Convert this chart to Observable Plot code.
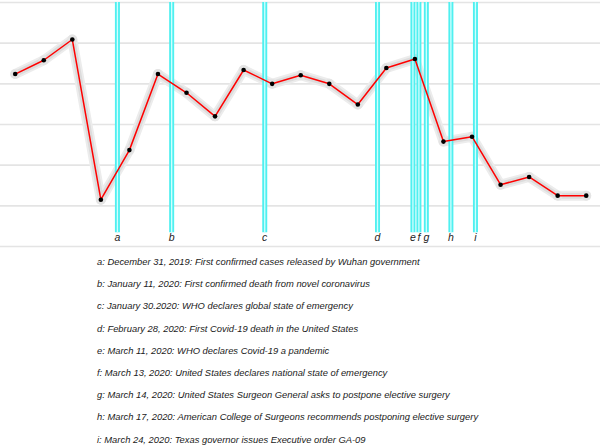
<!DOCTYPE html>
<html>
<head>
<meta charset="utf-8">
<script src="https://cdn.jsdelivr.net/npm/d3@7"></script>
<script src="https://cdn.jsdelivr.net/npm/@observablehq/plot@0.6"></script>
<style>
  html, body { margin: 0; padding: 0; background: #fff; }
  #notes { margin: 0; padding: 0; position: relative; }
  #notes div {
    font-family: "Liberation Sans", Arial, sans-serif;
    font-style: italic;
    font-size: 9.4px;
    color: #1a1a1a;
    height: 22.2px;
    line-height: 22.2px;
    padding-left: 97px;
    white-space: nowrap;
  }
</style>
</head>
<body>
<div id="chart"></div>
<div id="notes"></div>
<script>
// Series: week index and value (no axis labels in the reference; units = gridline steps)
const weekIndex = [0,1,2,3,4,5,6,7,8,9,10,11,12,13,14,15,16,17,18,19,20];
const values = [4.24,4.58,5.09,1.15,2.37,4.24,3.78,3.20,4.34,4.00,4.21,4.00,3.49,4.39,4.61,2.58,2.70,1.52,1.71,1.25,1.25];

// Events: letter, position on the same week-index axis, description
const eventLetters = ["a","b","c","d","e","f","g","h","i"];
const eventPositions = [3.58,5.48,8.74,12.69,13.93,14.14,14.40,15.26,16.12];
const eventTexts = [
  "December 31, 2019: First confirmed cases released by Wuhan government",
  "January 11, 2020: First confirmed death from novel coronavirus",
  "January 30.2020: WHO declares global state of emergency",
  "February 28, 2020: First Covid-19 death in the United States",
  "March 11, 2020: WHO declares Covid-19 a pandemic",
  "March 13, 2020: United States declares national state of emergency",
  "March 14, 2020: United States Surgeon General asks to postpone elective surgery",
  "March 17, 2020: American College of Surgeons recommends postponing elective surgery",
  "March 24, 2020: Texas governor issues Executive order GA-09"
];
const gridTicks = [0,1,2,3,4,5,6];

const series = weekIndex.map((w, i) => ({w, v: values[i]}));
const events = eventLetters.map((l, i) => ({l, x: eventPositions[i], t: eventTexts[i]}));

const chart = Plot.plot({
  width: 600,
  height: 250,
  marginLeft: 0,
  marginRight: 0,
  marginTop: 2,
  marginBottom: 4,
  x: {domain: [-0.515, 20.5], axis: null},
  y: {domain: [0, 6], axis: null},
  marks: [
    Plot.ruleY(gridTicks, {stroke: "#e4e4e4", strokeWidth: 1.6}),
    Plot.line(series, {x: "w", y: "v", stroke: "#ececec", strokeWidth: 10, strokeLinejoin: "round", strokeLinecap: "round"}),
    Plot.line(series, {x: "w", y: "v", stroke: "#dcdcdc", strokeWidth: 6, strokeLinejoin: "round", strokeLinecap: "round"}),
    Plot.dot(series, {x: "w", y: "v", r: 5, fill: "#e4e4e4"}),
    Plot.ruleX(events, {x: "x", y1: 0.34, y2: 6, stroke: "#4ff0f0", strokeWidth: 5}),
    Plot.ruleX(events, {x: "x", y1: 0.34, y2: 6, stroke: "#d0ffff", strokeWidth: 1.3}),
    Plot.text(events, {x: "x", text: "l", frameAnchor: "bottom", dy: -6,
      fontFamily: "Liberation Sans, Arial, sans-serif", fontStyle: "italic", fontSize: 10.5, fill: "#222"}),
    Plot.line(series, {x: "w", y: "v", stroke: "#ff0000", strokeWidth: 1.5}),
    Plot.dot(series, {x: "w", y: "v", r: 2.3, fill: "#000"})
  ]
});
document.getElementById("chart").appendChild(chart);

const notes = document.getElementById("notes");
notes.style.marginTop = "1px";
events.forEach(e => {
  const d = document.createElement("div");
  d.textContent = e.l + ": " + e.t;
  notes.appendChild(d);
});
</script>
</body>
</html>
